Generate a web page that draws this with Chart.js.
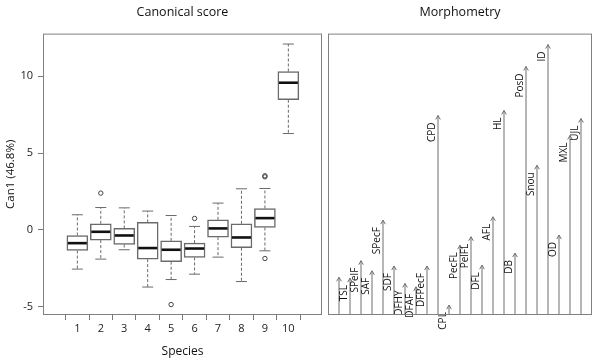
<!DOCTYPE html>
<html>
<head>
<meta charset="utf-8">
<script src="https://cdn.jsdelivr.net/npm/chart.js@4.4.1/dist/chart.umd.min.js"></script>
<style>
  html, body { margin: 0; padding: 0; background: #fff; }
  #wrap { position: relative; width: 600px; height: 359px; }
  #boxChart { position: absolute; left: 0; top: 0; }
  #arrowChart { position: absolute; left: 327px; top: 0; }
</style>
</head>
<body>
<div id="wrap">
  <canvas id="boxChart" width="327" height="359"></canvas>
  <canvas id="arrowChart" width="273" height="359"></canvas>
</div>
<script>
// Canonical score per species (box plot stats)
const species = [1, 2, 3, 4, 5, 6, 7, 8, 9, 10];
const whiskerLow = [-2.56, -1.91, -1.30, -3.73, -3.24, -2.89, -1.78, -3.37, -1.37, 6.27];
const q1 = [-1.35, -0.67, -0.96, -1.91, -2.08, -1.80, -0.48, -1.17, 0.15, 8.47];
const median = [-0.87, -0.13, -0.37, -1.19, -1.30, -1.22, 0.09, -0.50, 0.76, 9.58];
const q3 = [-0.37, 0.39, 0.09, 0.48, -0.72, -0.87, 0.65, 0.39, 1.39, 10.31];
const whiskerHigh = [0.98, 1.45, 1.43, 1.22, 0.93, 0.22, 1.74, 2.67, 2.69, 12.10];
const outlierSpecies = [2, 5, 6, 9, 9, 9];
const outlierValues = [2.39, -4.87, 0.74, 3.52, 3.45, -1.87];
const yTicks = [-5, 0, 5, 10];

// Morphometry: arrow lengths (loadings)
const traits = ["", "TSL", "SPelF", "SAF", "SPecF", "SDF", "DFHY", "DFAF", "DFPecF", "CPD", "CPL",
  "PecFL", "PelFL", "DFL", "AFL", "HL", "DB", "PosD", "Snou", "ID", "OD", "MXL", "UJL"];
const loadings = [0.134, 0.131, 0.193, 0.157, 0.337, 0.174, 0.112, 0.100, 0.174, 0.709, 0.035,
  0.248, 0.278, 0.177, 0.349, 0.727, 0.220, 0.883, 0.532, 0.961, 0.284, 0.638, 0.698];

const FONT = "'Open Sans', 'DejaVu Sans', sans-serif";

// panel frame
const frame = {
  id: "frame",
  afterDraw(chart) {
    const { ctx, chartArea: a } = chart;
    ctx.save();
    ctx.strokeStyle = "#808080";
    ctx.lineWidth = 1;
    ctx.strokeRect(a.left + 0.5, a.top + 0.5, a.right - a.left - 1, a.bottom - a.top - 1);
    ctx.restore();
  },
};

// whiskers + medians on top of the box bars
const boxExtras = {
  id: "boxExtras",
  afterDatasetsDraw(chart) {
    const { ctx, scales: { x, y } } = chart;
    const half = 10.5;
    const cap = 5.5;
    const seg = (x1, y1, x2, y2) => {
      ctx.beginPath();
      ctx.moveTo(x1, y1);
      ctx.lineTo(x2, y2);
      ctx.stroke();
    };
    ctx.save();
    species.forEach((s, i) => {
      const px = x.getPixelForValue(s);
      ctx.strokeStyle = "#6a6a6a";
      ctx.lineWidth = 1;
      ctx.setLineDash([3, 2]);
      seg(px, y.getPixelForValue(q3[i]), px, y.getPixelForValue(whiskerHigh[i]));
      seg(px, y.getPixelForValue(q1[i]), px, y.getPixelForValue(whiskerLow[i]));
      ctx.setLineDash([]);
      seg(px - cap, y.getPixelForValue(whiskerHigh[i]), px + cap, y.getPixelForValue(whiskerHigh[i]));
      seg(px - cap, y.getPixelForValue(whiskerLow[i]), px + cap, y.getPixelForValue(whiskerLow[i]));
      ctx.strokeStyle = "#111";
      ctx.lineWidth = 2.6;
      seg(px - half + 1, y.getPixelForValue(median[i]), px + half - 1, y.getPixelForValue(median[i]));
    });
    ctx.restore();
  },
};

new Chart(document.getElementById("boxChart"), {
  data: {
    datasets: [
      {
        type: "bar",
        data: species.map((s, i) => ({ x: s, y: [q1[i], q3[i]] })),
        backgroundColor: "#fff",
        borderColor: "#6a6a6a",
        borderWidth: 1.5,
        borderSkipped: false,
        barThickness: 21,
      },
      {
        type: "scatter",
        data: outlierSpecies.map((s, i) => ({ x: s, y: outlierValues[i] })),
        pointStyle: "circle",
        pointRadius: 2.2,
        backgroundColor: "rgba(0,0,0,0)",
        borderColor: "#444",
        borderWidth: 1,
      },
    ],
  },
  options: {
    responsive: false,
    animation: false,
    layout: { padding: { left: 0, right: 2, top: 0, bottom: 0 } },
    plugins: {
      legend: { display: false },
      tooltip: { enabled: false },
      title: {
        display: true,
        text: "Canonical score",
        fullSize: false,
        color: "#111",
        font: { family: FONT, size: 12.5, weight: "normal" },
        padding: { top: 5, bottom: 13.6 },
      },
    },
    scales: {
      x: {
        type: "linear",
        min: 0.13,
        max: 10.84,
        afterBuildTicks: (s) => { s.ticks = species.map((v) => ({ value: v })); },
        afterFit: (s) => { s.height = 44; },
        grid: { drawOnChartArea: false, drawTicks: true, tickLength: 5, color: "#777" },
        border: { display: false },
        ticks: { color: "#222", padding: 2, font: { family: FONT, size: 11 } },
        title: { display: true, text: "Species", color: "#111", font: { family: FONT, size: 12 }, padding: { top: 0, bottom: 0.5 } },
      },
      y: {
        type: "linear",
        min: -5.55,
        max: 12.78,
        afterBuildTicks: (s) => { s.ticks = yTicks.map((v) => ({ value: v })); },
        afterFit: (s) => { s.width = 43; },
        grid: { drawOnChartArea: false, drawTicks: true, tickLength: 5, color: "#777" },
        border: { display: false },
        ticks: { color: "#222", padding: 5, font: { family: FONT, size: 11 } },
        title: { display: true, text: "Can1 (46.8%)", color: "#111", font: { family: FONT, size: 11.5 }, padding: { top: 3.4, bottom: 0 } },
      },
    },
  },
  plugins: [boxExtras, frame],
});

// arrows from the baseline up to each loading, with rotated trait names
const arrows = {
  id: "arrows",
  afterDatasetsDraw(chart) {
    const { ctx, scales: { x, y } } = chart;
    const base = y.getPixelForValue(0);
    ctx.save();
    loadings.forEach((v, i) => {
      const px = x.getPixelForValue(i + 1);
      const tip = y.getPixelForValue(v);
      ctx.strokeStyle = "#6e6e6e";
      ctx.lineWidth = 1;
      ctx.beginPath();
      ctx.moveTo(px, base);
      ctx.lineTo(px, tip);
      ctx.moveTo(px - 2.3, tip + 4);
      ctx.lineTo(px, tip);
      ctx.lineTo(px + 2.3, tip + 4);
      ctx.stroke();
      if (traits[i]) {
        ctx.save();
        ctx.translate(px - 6, tip + 7);
        ctx.rotate(-Math.PI / 2);
        ctx.fillStyle = "#111";
        ctx.font = "10px " + FONT;
        ctx.textAlign = "right";
        ctx.textBaseline = "middle";
        ctx.fillText(traits[i], 0, 0);
        ctx.restore();
      }
    });
    ctx.restore();
  },
};

new Chart(document.getElementById("arrowChart"), {
  type: "scatter",
  data: {
    datasets: [
      {
        data: loadings.map((v, i) => ({ x: i + 1, y: v })),
        pointRadius: 0,
      },
    ],
  },
  options: {
    responsive: false,
    animation: false,
    layout: { padding: { left: 1, right: 8, top: 0, bottom: 44 } },
    plugins: {
      legend: { display: false },
      tooltip: { enabled: false },
      title: {
        display: true,
        text: "Morphometry",
        fullSize: false,
        color: "#111",
        font: { family: FONT, size: 12.5, weight: "normal" },
        padding: { top: 5, bottom: 13.6 },
      },
    },
    scales: {
      x: { type: "linear", min: 0, max: 24, display: false },
      y: { type: "linear", min: 0, max: 1, display: false },
    },
  },
  plugins: [arrows, frame],
});
</script>
</body>
</html>
